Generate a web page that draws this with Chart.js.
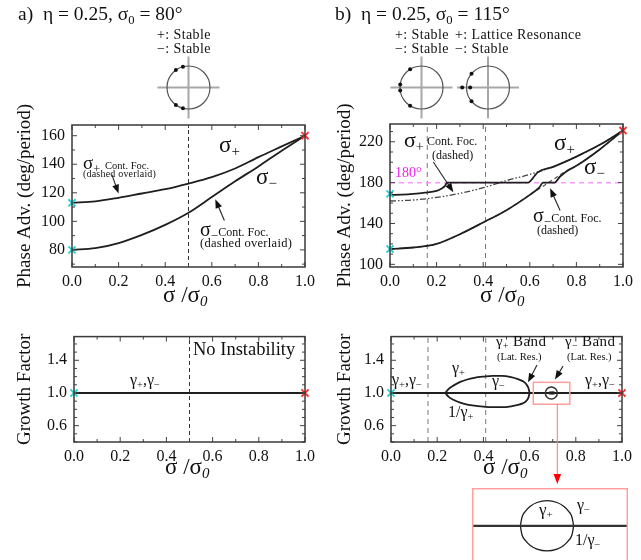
<!DOCTYPE html>
<html>
<head>
<meta charset="utf-8">
<title>Phase advance and growth factor</title>
<script src="https://cdn.jsdelivr.net/npm/chart.js@4.4.1/dist/chart.umd.min.js"></script>
<style>
  body { margin: 0; background: #fff; }
  #wrap { position: relative; width: 641px; height: 560px; overflow: hidden; font-family: "Liberation Serif", "Times New Roman", serif; color: #111; }
  canvas { position: absolute; }
  .t { position: absolute; white-space: nowrap; line-height: 1; }
  sub { font-size: 65%; vertical-align: -0.3em; line-height: 0; }
  .ax { font-size: 23px; }
  .big { font-size: 23px; }
  .st { font-size: 14px; line-height: 14px; letter-spacing: 0.4px; }
</style>
</head>
<body>
<div id="wrap">
  <canvas id="phaseA" width="320" height="315" style="left:0;top:0"></canvas>
  <canvas id="phaseB" width="321" height="315" style="left:320px;top:0"></canvas>
  <canvas id="growthA" width="320" height="170" style="left:0;top:320px"></canvas>
  <canvas id="growthB" width="321" height="170" style="left:320px;top:320px"></canvas>
  <canvas id="inset" width="156" height="80" style="left:472px;top:488px"></canvas>

  <!-- panel titles -->
  <div class="t" style="left:18px;top:4px;font-size:19.5px">a)&nbsp; η = 0.25, σ<sub>0</sub> = 80°</div>
  <div class="t" style="left:335px;top:4px;font-size:19.5px">b)&nbsp; η = 0.25, σ<sub>0</sub> = 115°</div>
  <div class="t st" style="left:157px;top:28px">+: Stable<br>−: Stable</div>
  <div class="t st" style="left:395px;top:28px">+: Stable<br>−: Stable</div>
  <div class="t st" style="left:455px;top:28px">+: Lattice Resonance<br>−: Stable</div>

  <!-- panel a, phase advance -->
  <div class="t big" style="left:219px;top:133px">σ<sub>+</sub></div>
  <div class="t big" style="left:256px;top:165px">σ<sub>−</sub></div>
  <div class="t" style="left:83px;top:153px;font-size:19px">σ<sub>+</sub> <span style="font-size:10.5px">Cont. Foc.</span></div>
  <div class="t" style="left:83px;top:169px;font-size:10px;letter-spacing:0.2px">(dashed overlaid)</div>
  <div class="t" style="left:200px;top:219px;font-size:20px">σ<sub>−</sub><span style="font-size:12px">Cont. Foc.</span></div>
  <div class="t" style="left:200px;top:237px;font-size:12.5px;letter-spacing:0.3px">(dashed overlaid)</div>
  <div class="t ax" style="left:163px;top:283px">σ /σ<sub><i>0</i></sub></div>

  <!-- panel b, phase advance -->
  <div class="t" style="left:404px;top:129px;font-size:22px">σ<sub>+</sub></div>
  <div class="t" style="left:427px;top:135px;font-size:12px">Cont. Foc.</div>
  <div class="t" style="left:432px;top:149px;font-size:12px">(dashed)</div>
  <div class="t big" style="left:554px;top:131px">σ<sub>+</sub></div>
  <div class="t big" style="left:584px;top:155px">σ<sub>−</sub></div>
  <div class="t" style="left:395px;top:166px;font-size:14px;color:#ee22ee">180°</div>
  <div class="t" style="left:533px;top:205px;font-size:20px">σ<sub>−</sub><span style="font-size:12px">Cont. Foc.</span></div>
  <div class="t" style="left:537px;top:224px;font-size:12px">(dashed)</div>
  <div class="t ax" style="left:480px;top:283px">σ /σ<sub><i>0</i></sub></div>

  <!-- panel a, growth -->
  <div class="t" style="left:193px;top:340px;font-size:18.5px">No Instability</div>
  <div class="t" style="left:130px;top:372px;font-size:16px">γ<sub>+</sub>,γ<sub>−</sub></div>
  <div class="t ax" style="left:165px;top:455px">σ /σ<sub><i>0</i></sub></div>

  <!-- panel b, growth -->
  <div class="t" style="left:392px;top:372px;font-size:16px">γ<sub>+</sub>,γ<sub>−</sub></div>
  <div class="t" style="left:452px;top:360px;font-size:16px">γ<sub>+</sub></div>
  <div class="t" style="left:492px;top:373px;font-size:16px">γ<sub>−</sub></div>
  <div class="t" style="left:448px;top:404px;font-size:16px">1/γ<sub>+</sub></div>
  <div class="t" style="left:496px;top:334px;font-size:15px;letter-spacing:0.4px">γ<sub>+</sub> Band</div>
  <div class="t" style="left:497px;top:352px;font-size:10.5px">(Lat. Res.)</div>
  <div class="t" style="left:565px;top:334px;font-size:15px;letter-spacing:0.4px">γ<sub>−</sub> Band</div>
  <div class="t" style="left:567px;top:352px;font-size:10.5px">(Lat. Res.)</div>
  <div class="t" style="left:585px;top:372px;font-size:16px">γ<sub>+</sub>,γ<sub>−</sub></div>
  <div class="t ax" style="left:483px;top:455px">σ /σ<sub><i>0</i></sub></div>

  <!-- inset -->
  <div class="t" style="left:539px;top:501px;font-size:17px">γ<sub>+</sub></div>
  <div class="t" style="left:577px;top:497px;font-size:16px">γ<sub>−</sub></div>
  <div class="t" style="left:575px;top:532px;font-size:16px">1/γ<sub>−</sub></div>
</div>

<script>
const FONT = '"Liberation Serif", "Times New Roman", serif';
const INK = '#1e1e1e';
const CYAN = '#22d0d0';
const RED = '#ff2a2a';

// tick labels
const xTicks = [0, 0.2, 0.4, 0.6, 0.8, 1.0];
const phaseTicksA = [80, 100, 120, 140, 160];
const phaseTicksB = [100, 140, 180, 220];
const growthTicks = [0.6, 1.0, 1.4];

// a) eta = 0.25, sigma0 = 80 deg
const xA = [0, 0.1, 0.2, 0.3, 0.4, 0.5, 0.6, 0.7, 0.8, 0.9, 1.0];
const sigmaPlusA = [113, 114, 116.5, 119.5, 122.5, 126.5, 131, 137, 145, 152.5, 160];
const sigmaMinusA = [80, 81.2, 84.8, 90.5, 97.5, 106, 117, 128, 138.5, 149.5, 160];
const boundaryA = [0.5];
const startA = [113, 80];
const endA = [160];

// b) eta = 0.25, sigma0 = 115 deg
const xPlusB = [0, 0.05, 0.1, 0.15, 0.2, 0.22, 0.235, 0.245, 0.59, 0.6, 0.61, 0.62, 0.635, 0.7, 0.8, 0.9, 1.0];
const sigmaPlusB = [168, 168.3, 169, 170.2, 172, 174, 176.5, 180, 180, 181, 183.5, 186.5, 190.3, 195.5, 205.5, 217, 231];
const xPlusContB = [0, 0.1, 0.2, 0.3, 0.4, 0.5, 0.6, 0.7, 0.8, 0.9, 1.0];
const sigmaPlusContB = [162, 163, 165.5, 169.5, 175, 182, 188, 195.5, 205.5, 217, 231];
const xMinusB = [0, 0.1, 0.2, 0.3, 0.4, 0.5, 0.6, 0.64, 0.657, 0.705, 0.73, 0.76, 0.8, 0.9, 1.0];
const sigmaMinusB = [115, 116.5, 120, 129.5, 141, 153, 168, 175, 180, 180, 186, 191.5, 196.5, 212.5, 231];
const xMinusContB = [0, 0.1, 0.2, 0.3, 0.4, 0.5, 0.6, 0.65, 0.68, 0.7, 0.75, 0.8, 0.9, 1.0];
const sigmaMinusContB = [115, 116.5, 120, 129.5, 141, 153, 168, 175.5, 180, 183, 190.5, 196.5, 212.5, 231];
const boundariesB = [0.16, 0.41];
const halfIntegerB = [180];
const startB = [169, 115];
const endB = [231];

// growth factors
const growthX = [0, 1];
const growthBase = [1, 1];
const bandPlusX = [0.235, 0.25, 0.27, 0.30, 0.33, 0.36, 0.40, 0.44, 0.48, 0.52, 0.55, 0.57, 0.585, 0.595, 0.6];
const gammaPlus = [1.0, 1.05, 1.09, 1.135, 1.165, 1.185, 1.2, 1.21, 1.21, 1.195, 1.17, 1.145, 1.11, 1.06, 1.0];
const gammaPlusInv = [1.0, 0.952, 0.917, 0.881, 0.858, 0.844, 0.833, 0.826, 0.826, 0.837, 0.855, 0.873, 0.901, 0.943, 1.0];
const bandMinusX = [0.68, 0.681, 0.683, 0.686, 0.69, 0.696, 0.702, 0.706, 0.709, 0.711, 0.712];
const gammaMinus = [1.0, 1.0052, 1.0087, 1.0117, 1.0139, 1.015, 1.0139, 1.0117, 1.0087, 1.0052, 1.0];
const gammaMinusInv = [1.0, 0.9948, 0.9914, 0.9884, 0.9863, 0.9852, 0.9863, 0.9884, 0.9914, 0.9948, 1.0];
const zoomMark = [0.694];

const pts = (xs, ys) => xs.map((x, i) => ({ x: x, y: ys[i] }));

function curve(xs, ys, extra) {
  return Object.assign({
    data: pts(xs, ys), borderColor: INK, borderWidth: 1.8, pointRadius: 0,
    cubicInterpolationMode: 'monotone', order: 1
  }, extra || {});
}
function vline(x, lo, hi, color, dash) {
  return { data: [{ x: x, y: lo }, { x: x, y: hi }], borderColor: color, borderWidth: 1,
    borderDash: dash, pointRadius: 0, order: 5 };
}
function hline(y, lo, hi, color, dash, w) {
  return { data: [{ x: lo, y: y }, { x: hi, y: y }], borderColor: color, borderWidth: w || 1,
    borderDash: dash, pointRadius: 0, order: 4 };
}
function marks(x, ys, color) {
  return { data: ys.map(y => ({ x: x, y: y })), showLine: false, pointStyle: 'crossRot',
    pointRadius: 5, pointBorderWidth: 1.8, pointBorderColor: color, clip: false, order: 0 };
}

function drawArrow(ctx, x1, y1, x2, y2, line, headColor, head) {
  const a = Math.atan2(y2 - y1, x2 - x1);
  const c = Math.cos(a), s = Math.sin(a);
  ctx.strokeStyle = line; ctx.lineWidth = 1.1;
  ctx.beginPath(); ctx.moveTo(x1, y1); ctx.lineTo(x2 - c * head * 0.7, y2 - s * head * 0.7); ctx.stroke();
  ctx.fillStyle = headColor;
  ctx.beginPath(); ctx.moveTo(x2, y2);
  ctx.lineTo(x2 - head * c + head * 0.38 * s, y2 - head * s - head * 0.38 * c);
  ctx.lineTo(x2 - head * c - head * 0.38 * s, y2 - head * s + head * 0.38 * c);
  ctx.closePath(); ctx.fill();
}

const decor = {
  id: 'decor',
  afterDatasetsDraw(chart, args, o) {
    const { ctx, chartArea: a, scales: { x, y } } = chart;
    ctx.save();
    if (o.yStep) {
      ctx.strokeStyle = '#444'; ctx.lineWidth = 1;
      ctx.beginPath();
      for (let i = 0; i <= 10; i++) {
        const px = x.getPixelForValue(i / 10), len = i % 2 ? 3 : 5;
        ctx.moveTo(px, a.bottom); ctx.lineTo(px, a.bottom - len);
        ctx.moveTo(px, a.top); ctx.lineTo(px, a.top + len);
      }
      for (let v = o.yFrom; v <= y.max + 1e-9; v += o.yStep) {
        const py = y.getPixelForValue(v);
        const major = y.ticks.some(t => Math.abs(t.value - v) < 1e-6);
        const len = major ? 5 : 3;
        ctx.moveTo(a.left, py); ctx.lineTo(a.left + len, py);
        ctx.moveTo(a.right, py); ctx.lineTo(a.right - len, py);
      }
      ctx.stroke();
    }
    ctx.strokeStyle = o.frame || '#3a3a3a';
    ctx.lineWidth = 1.5;
    if (o.inset) ctx.strokeRect(0.75, 0.75, chart.width - 1.5, chart.height + 5);
    else ctx.strokeRect(a.left, a.top, a.right - a.left, a.bottom - a.top);
    (o.arrows || []).forEach(r => drawArrow(ctx,
      x.getPixelForValue(r[0]), y.getPixelForValue(r[1]),
      x.getPixelForValue(r[2]), y.getPixelForValue(r[3]), '#222', '#111', 9));
    if (o.zoomBox) {
      const z = o.zoomBox;
      const l = x.getPixelForValue(z[0]), r = x.getPixelForValue(z[1]);
      const t = y.getPixelForValue(z[3]), b = y.getPixelForValue(z[2]);
      ctx.strokeStyle = '#ff9e9e'; ctx.lineWidth = 1.5;
      ctx.strokeRect(l, t, r - l, b - t);
      const ax = x.getPixelForValue(z[4]);
      drawArrow(ctx, ax, b, ax, chart.height - 6, '#ff8080', '#ff0000', 10);
    }
    ctx.restore();
  },
  afterDraw(chart, args, o) {
    const ctx = chart.ctx;
    (o.diagrams || []).forEach(d => {
      ctx.save();
      ctx.strokeStyle = '#a8a8a8'; ctx.lineWidth = 2;
      ctx.beginPath();
      ctx.moveTo(d.cx - 31, d.cy); ctx.lineTo(d.cx + 31, d.cy);
      ctx.moveTo(d.cx, d.cy - 31); ctx.lineTo(d.cx, d.cy + 31);
      ctx.stroke();
      ctx.strokeStyle = '#555'; ctx.lineWidth = 1.2;
      ctx.beginPath(); ctx.arc(d.cx, d.cy, d.r, 0, Math.PI * 2); ctx.stroke();
      ctx.fillStyle = '#111';
      d.dots.forEach(p => {
        const ang = p[0] * Math.PI / 180, k = p[1];
        ctx.beginPath();
        ctx.arc(d.cx + d.r * k * Math.cos(ang), d.cy - d.r * k * Math.sin(ang), 2, 0, Math.PI * 2);
        ctx.fill();
      });
      ctx.restore();
    });
  }
};
Chart.register(decor);

function axisX(h) {
  return {
    type: 'linear', min: 0, max: 1,
    afterFit: s => { s.height = h; },
    afterBuildTicks: s => { s.ticks = xTicks.map(v => ({ value: v })); },
    grid: { display: false, drawTicks: false }, border: { display: false },
    ticks: { font: { family: FONT, size: 16 }, color: '#111', padding: 5, maxRotation: 0,
      autoSkip: false, callback: v => v.toFixed(1) }
  };
}
function axisY(min, max, tickVals, w, title, digits) {
  return {
    type: 'linear', min: min, max: max,
    afterFit: s => { s.width = w; },
    afterBuildTicks: s => { s.ticks = tickVals.map(v => ({ value: v })); },
    grid: { display: false, drawTicks: false }, border: { display: false },
    ticks: { font: { family: FONT, size: 16 }, color: '#111', padding: 7, autoSkip: false,
      callback: v => v.toFixed(digits) },
    title: { display: true, text: title, color: '#111', font: { family: FONT, size: 19 },
      padding: { top: 14, bottom: 0 } }
  };
}
function make(id, datasets, pad, x, y, deco) {
  return new Chart(document.getElementById(id), {
    type: 'line',
    data: { datasets: datasets },
    options: {
      responsive: false, animation: false, events: [],
      layout: { padding: pad },
      plugins: { legend: { display: false }, tooltip: { enabled: false }, decor: deco },
      scales: { x: x, y: y }
    }
  });
}

// a) phase advance
make('phaseA', [
  curve(xA, sigmaPlusA),
  curve(xA, sigmaMinusA),
  vline(boundaryA[0], 68, 167.5, '#333', [4, 3]),
  marks(0, startA, CYAN),
  marks(1, endA, RED)
], { top: 125, right: 14, left: 0, bottom: 0 }, axisX(48),
  axisY(68, 167.5, phaseTicksA, 72, 'Phase Adv. (deg/period)', 0),
  { yFrom: 70, yStep: 10,
    arrows: [[0.171, 132.7, 0.2, 119.5], [0.654, 100.6, 0.615, 115.5]],
    diagrams: [{ cx: 188.5, cy: 87.5, r: 21.5, dots: [[105, 1], [126, 1], [-105, 1], [-126, 1]] }] });

// b) phase advance
make('phaseB', [
  curve(xPlusB, sigmaPlusB),
  curve(xPlusContB, sigmaPlusContB, { borderColor: '#444', borderWidth: 1.3, borderDash: [6, 2, 1.5, 2, 1.5, 2], order: 2 }),
  curve(xMinusB, sigmaMinusB),
  curve(xMinusContB, sigmaMinusContB, { borderColor: '#555', borderWidth: 1.2, borderDash: [4, 3], order: 2 }),
  hline(halfIntegerB[0], 0, 1, '#ff99ff', [5, 4], 1.5),
  vline(boundariesB[0], 97.4, 237.4, '#777', [5, 4]),
  vline(boundariesB[1], 97.4, 237.4, '#777', [5, 4]),
  marks(0, startB, CYAN),
  marks(1, endB, RED)
], { top: 124, right: 18, left: 0, bottom: 0 }, axisX(48),
  axisY(97.4, 237.4, phaseTicksB, 70, 'Phase Adv. (deg/period)', 0),
  { yFrom: 100, yStep: 10,
    arrows: [[0.186, 200.2, 0.272, 170.6], [0.73, 152.8, 0.687, 174.5]],
    diagrams: [
      { cx: 101.5, cy: 87.5, r: 21.5, dots: [[122, 1], [172, 1], [-172, 1], [-122, 1]] },
      { cx: 168, cy: 87.5, r: 21.5, dots: [[140, 1], [-140, 1], [180, 0.83], [180, 1.2]] }
    ] });

// a) growth factor
make('growthA', [
  curve(growthX, growthBase, { borderWidth: 2.2 }),
  vline(boundaryA[0], 0.4, 1.69, '#333', [4, 3]),
  marks(0, [1], CYAN),
  marks(1, [1], RED)
], { top: 13, right: 15, left: 0, bottom: 0 }, axisX(48),
  axisY(0.4, 1.69, growthTicks, 74, 'Growth Factor', 1),
  { yFrom: 0.4, yStep: 0.1 });

// b) growth factor
make('growthB', [
  curve(growthX, growthBase, { borderWidth: 2.2 }),
  curve(bandPlusX, gammaPlus),
  curve(bandPlusX, gammaPlusInv),
  curve(bandMinusX, gammaMinus, { borderWidth: 1 }),
  curve(bandMinusX, gammaMinusInv, { borderWidth: 1 }),
  { data: zoomMark.map(x => ({ x: x, y: 1 })), showLine: false, pointStyle: 'circle', pointRadius: 6,
    pointBorderColor: '#333', pointBackgroundColor: 'rgba(0,0,0,0)', pointBorderWidth: 1.5, order: 0 },
  vline(boundariesB[0], 0.4, 1.69, '#777', [5, 4]),
  vline(boundariesB[1], 0.4, 1.69, '#777', [5, 4]),
  marks(0, [1], CYAN),
  marks(1, [1], RED)
], { top: 13, right: 19, left: 0, bottom: 0 }, axisX(48),
  axisY(0.4, 1.69, growthTicks, 71, 'Growth Factor', 1),
  { yFrom: 0.4, yStep: 0.1,
    arrows: [[0.632, 1.341, 0.593, 1.13], [0.745, 1.33, 0.71, 1.165]],
    zoomBox: [0.616, 0.774, 0.862, 1.13, 0.72] });

// magnified lattice-resonance band
make('inset', [
  curve([0.651, 0.7446], growthBase, { borderWidth: 2.2, borderColor: '#333' }),
  curve(bandMinusX, gammaMinus, { borderWidth: 1.3 }),
  curve(bandMinusX, gammaMinusInv, { borderWidth: 1.3 })
], 0,
  { type: 'linear', min: 0.651, max: 0.7446, display: false },
  { type: 'linear', min: 0.9751, max: 1.0225, display: false },
  { inset: true, frame: '#ffa0a0' });
</script>
</body>
</html>
